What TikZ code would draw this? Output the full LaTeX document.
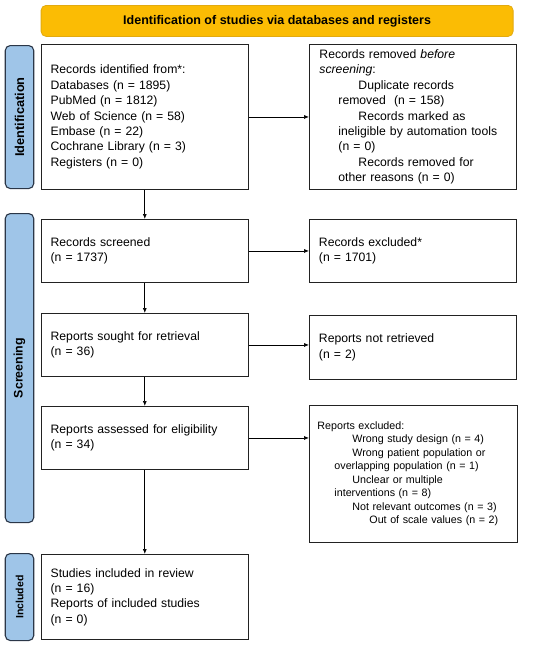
\documentclass[tikz,border=0pt]{standalone}
\usepackage{fontspec}
\setmainfont{Liberation Sans}
\usetikzlibrary{arrows.meta,positioning}
\definecolor{hdrfill}{HTML}{FBBC04}
\definecolor{hdrdraw}{HTML}{E2AA10}
\definecolor{sidefill}{HTML}{9FC5E8}
\definecolor{sidedraw}{HTML}{2B3748}
\definecolor{boxdraw}{HTML}{222222}
\tikzset{
  x=1pt, y=-1pt,
  flowbox/.style={draw=boxdraw, line width=0.9pt, anchor=north west, align=left,
    font=\fontsize{12.2}{15.4}\selectfont, inner xsep=9.5pt, inner ysep=0pt},
  smallbox/.style={flowbox, font=\fontsize{10.7}{13.5}\selectfont, inner xsep=8pt},
  sidelabel/.style={draw=sidedraw, fill=sidefill, line width=1.1pt, rounded corners=5pt,
    anchor=north west, minimum width=28.5pt, inner sep=0pt},
  sidetext/.style={rotate=90, font=\bfseries\color{black!85}},
  header/.style={draw=hdrdraw, fill=hdrfill, line width=0.8pt, rounded corners=5pt,
    anchor=north west, minimum width=472pt, minimum height=31pt, inner sep=0pt,
    font=\fontsize{12.5}{14}\selectfont\bfseries},
  flowarrow/.style={-{Latex[length=5pt,width=4pt]}, line width=0.7pt, black},
}
\begin{document}
\begin{tikzpicture}
\useasboundingbox (0,0) rectangle (550,645);
\fill[white] (0,0) rectangle (550,645);

\node[header] (hdr) at (40.7,5) {Identification of studies via databases and registers};

\node[sidelabel, minimum height=143pt] (sideid) at (4.7,45) {};
\node[sidetext, font=\fontsize{12.8}{14}\selectfont\bfseries] at (sideid.center) {Identification};
\node[sidelabel, minimum height=309pt] (sidescr) at (4.7,213) {};
\node[sidetext, font=\fontsize{12.4}{14}\selectfont\bfseries] at (sidescr.center) {Screening};
\node[sidelabel, minimum height=87pt] (sideinc) at (4.7,553) {};
\node[sidetext, font=\fontsize{10.5}{12}\selectfont\bfseries] at (sideinc.center) {Included};

\node[flowbox, text width=188.3pt, minimum height=145pt] (ident) at (40.7,44) {%
Records identified from*:\\
Databases (n = 1895)\\
PubMed (n = 1812)\\
Web of Science (n = 58)\\
Embase (n = 22)\\
Cochrane Library (n = 3)\\
Registers (n = 0)};

\node[flowbox, text width=187pt, minimum height=145pt, inner xsep=10pt] (removed) at (309,44) {%
Records removed \textit{before}\\
\textit{screening}:\\
\hspace*{39pt}Duplicate records\\
\hspace*{19pt}removed\ \ (n = 158)\\
\hspace*{39pt}Records marked as\\
\hspace*{19pt}ineligible by automation tools\\
\hspace*{19pt}(n = 0)\\
\hspace*{39pt}Records removed for\\
\hspace*{19pt}other reasons (n = 0)};

\node[flowbox, text width=188.3pt, minimum height=63pt] (screened) at (40.7,219) {%
Records screened\\
(n = 1737)};

\node[flowbox, text width=188pt, minimum height=63pt] (excluded) at (309,219) {%
Records excluded*\\
(n = 1701)};

\node[flowbox, text width=188.3pt, minimum height=63pt] (sought) at (40.7,313) {%
Reports sought for retrieval\\
(n = 36)};

\node[flowbox, text width=188pt, minimum height=64pt] (notret) at (309,315) {%
Reports not retrieved\\
(n = 2)};

\node[flowbox, text width=188.3pt, minimum height=63pt] (assessed) at (40.7,406) {%
Reports assessed for eligibility\\
(n = 34)};

\node[smallbox, text width=192pt, minimum height=137pt] (repexcl) at (309,405) {%
Reports excluded:\\
\hspace*{35pt}Wrong study design (n = 4)\\
\hspace*{35pt}Wrong patient population or\\
\hspace*{17pt}overlapping population (n = 1)\\
\hspace*{35pt}Unclear or multiple\\
\hspace*{17pt}interventions (n = 8)\\
\hspace*{35pt}Not relevant outcomes (n = 3)\\
\hspace*{52pt}Out of scale values (n = 2)};

\node[flowbox, text width=188.3pt, minimum height=85pt] (included) at (40.7,554) {%
Studies included in review\\
(n = 16)\\
Reports of included studies\\
(n = 0)};

\draw[flowarrow] (ident.south) -- (screened.north);
\draw[flowarrow] (screened.south) -- (sought.north);
\draw[flowarrow] (sought.south) -- (assessed.north);
\draw[flowarrow] (assessed.south) -- (included.north);

\draw[flowarrow] (ident.east) -- (ident.east -| removed.west);
\draw[flowarrow] (screened.east) -- (screened.east -| excluded.west);
\draw[flowarrow] (sought.east) -- (sought.east -| notret.west);
\draw[flowarrow] (assessed.east) -- (assessed.east -| repexcl.west);
\end{tikzpicture}
\end{document}
